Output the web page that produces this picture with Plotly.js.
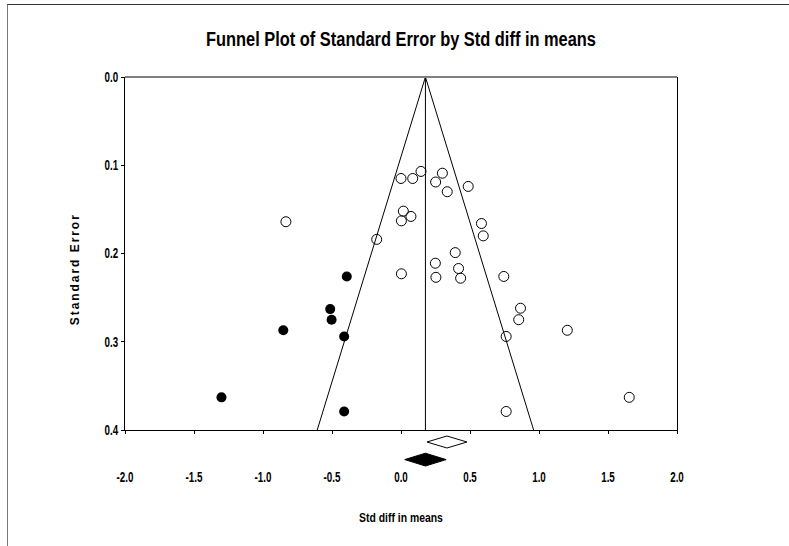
<!DOCTYPE html>
<html>
<head>
<meta charset="utf-8">
<script src="https://cdn.plot.ly/plotly-3.0.1.min.js"></script>
<style>
  html, body { margin: 0; padding: 0; background: #fff; }
  #wrap { position: relative; width: 789px; height: 546px; }
  #chart { width: 789px; height: 546px; }
  #frame { position: absolute; left: 7px; top: 4px; width: 782px; height: 542px;
           border-top: 1.5px solid #333; border-left: 1px solid #777; pointer-events: none; box-sizing: border-box; }
</style>
</head>
<body>
<div id="wrap">
  <div id="chart"></div>
  <div id="frame"></div>
</div>
<script>
// Observed studies (open circles)
const obsX = [0.000, 0.085, 0.145, 0.251, 0.300, 0.335, 0.487, -0.834, 0.017, 0.003, 0.072, -0.176,
              0.583, 0.596, 0.393, 0.249, 0.003, 0.253, 0.417, 0.432, 0.745, 0.866, 0.853, 0.762,
              1.205, 1.654, 0.762];
const obsSE = [0.115, 0.115, 0.107, 0.119, 0.109, 0.130, 0.124, 0.164, 0.152, 0.163, 0.158, 0.184,
               0.166, 0.180, 0.199, 0.211, 0.223, 0.227, 0.217, 0.228, 0.226, 0.262, 0.275, 0.294,
               0.287, 0.363, 0.379];
// Imputed studies (filled circles)
const impX = [-0.393, -0.513, -0.503, -0.853, -0.412, -1.301, -0.412];
const impSE = [0.226, 0.263, 0.275, 0.287, 0.294, 0.363, 0.379];
// Funnel (pseudo 95% limits) and adjusted mean line
const funnelX = [-0.607, 0.177, 0.961];
const funnelSE = [0.4, 0.0, 0.4];
const meanLineX = [0.177, 0.177];
const meanLineSE = [0.0, 0.4];
// Summary estimates: [lower, point, upper]
const observedSummary = [0.188, 0.333, 0.478];
const adjustedSummary = [0.027, 0.177, 0.327];
// Ticks
const xTicks = [-2.0, -1.5, -1.0, -0.5, 0.0, 0.5, 1.0, 1.5, 2.0];
const xTickText = ['-2.0', '-1.5', '-1.0', '-0.5', '0.0', '0.5', '1.0', '1.5', '2.0'];
const yTicks = [0.0, 0.1, 0.2, 0.3, 0.4];
const yTickText = ['0.0', '0.1', '0.2', '0.3', '0.4'];

const FONT = '"Liberation Sans", Arial, sans-serif';

function diamond(ci, yc, h) {
  return { x: [ci[0], ci[1], ci[2], ci[1], ci[0]], y: [yc, yc - h, yc, yc + h, yc] };
}
const dObs = diamond(observedSummary, 0.30, 0.15);
const dAdj = diamond(adjustedSummary, 0.74, 0.16);

const traces = [
  { x: funnelX, y: funnelSE, mode: 'lines', line: { color: '#000', width: 1 }, hoverinfo: 'skip', showlegend: false },
  { x: meanLineX, y: meanLineSE, mode: 'lines', line: { color: '#000', width: 1 }, hoverinfo: 'skip', showlegend: false },
  { x: obsX, y: obsSE, mode: 'markers', showlegend: false, cliponaxis: false,
    marker: { symbol: 'circle-open', size: 10, color: '#000', line: { width: 1, color: '#000' } } },
  { x: impX, y: impSE, mode: 'markers', showlegend: false, cliponaxis: false,
    marker: { symbol: 'circle', size: 10, color: '#000' } },
  { x: dObs.x, y: dObs.y, xaxis: 'x', yaxis: 'y2', mode: 'lines', fill: 'toself', fillcolor: '#fff',
    line: { color: '#000', width: 1 }, showlegend: false },
  { x: dAdj.x, y: dAdj.y, xaxis: 'x', yaxis: 'y2', mode: 'lines', fill: 'toself', fillcolor: '#000',
    line: { color: '#000', width: 1 }, showlegend: false }
];

const plotH = 546 - 77 - 76;
const dBot = 40 / plotH;

const tickFont = { family: FONT, size: 14, color: '#000', weight: 'bold' };

const layout = {
  width: 789, height: 546,
  margin: { l: 125, r: 112, t: 77, b: 76 },
  paper_bgcolor: '#fff', plot_bgcolor: '#fff',
  font: { family: FONT, color: '#000' },
  title: { text: 'Funnel Plot of Standard Error by Std diff in means',
           font: { family: FONT, size: 20, color: '#000', weight: 'bold' }, x: 0.5, xref: 'paper', xanchor: 'center',
           y: 44, yref: 'container', yanchor: 'middle' },
  xaxis: {
    range: [-2, 2], anchor: 'y', tickvals: xTicks, ticktext: xTickText,
    ticks: 'outside', ticklen: 3, tickcolor: '#000', showline: true, linecolor: '#000', linewidth: 1,
    showgrid: false, zeroline: false, ticklabelstandoff: 31, tickfont: tickFont,
    title: { text: 'Std diff in means', font: { family: FONT, size: 13, color: '#000', weight: 'bold' }, standoff: 29 }
  },
  yaxis: {
    domain: [dBot, 1], range: [0.4, 0], tickvals: yTicks, ticktext: yTickText,
    ticks: 'outside', ticklen: 3, tickcolor: '#000', showline: true, linecolor: '#000', linewidth: 1, mirror: true,
    showgrid: false, zeroline: false, tickfont: tickFont
  },
  yaxis2: { domain: [0, dBot], range: [1, 0], visible: false, anchor: 'x', fixedrange: true },
  annotations: [
    { text: 'Standard Error', xref: 'paper', yref: 'paper', x: -0.0906, y: 0.51, xanchor: 'center', yanchor: 'middle',
      textangle: -90, showarrow: false, font: { family: FONT, size: 12, color: '#000', weight: 'bold' } }
  ],
  shapes: [
    { type: 'line', xref: 'paper', yref: 'paper', x0: 0, x1: 1, y0: 1, y1: 1, line: { color: '#808080', width: 2 } }
  ]
};

function condense() {
  const rules = [
    ['.gtitle', 0.82, 'spacingAndGlyphs'],
    ['.xtick text, .ytick text', 0.7, 'spacingAndGlyphs'],
    ['.xtitle', 0.8, 'spacingAndGlyphs']
  ];
  rules.forEach(([sel, f, adj]) => {
    document.querySelectorAll('#chart ' + sel).forEach(t => {
      const w = t.getComputedTextLength();
      if (w > 0) { t.setAttribute('textLength', (w * f).toFixed(1)); t.setAttribute('lengthAdjust', adj); }
    });
  });
  document.querySelectorAll('#chart .annotation-text').forEach(t => {
    const w = t.getComputedTextLength();
    if (w > 0) { t.setAttribute('textLength', (w * 1.3).toFixed(1)); t.setAttribute('lengthAdjust', 'spacing'); }
  });
}

Plotly.newPlot('chart', traces, layout, { displayModeBar: false, staticPlot: true }).then(condense);
</script>
</body>
</html>
